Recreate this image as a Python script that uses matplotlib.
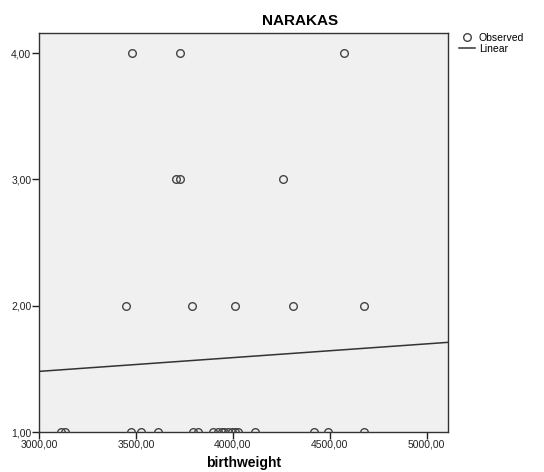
import matplotlib.pyplot as plt
from matplotlib.ticker import FuncFormatter

plt.rcParams['font.family'] = ['Liberation Sans', 'DejaVu Sans']

# Observed values (birthweight, NARAKAS)
bw_4 = [3480, 3728, 4574]
bw_3 = [3705, 3728, 4260]
bw_2 = [3447, 3789, 4010, 4311, 4679]
bw_1 = [3114, 3134, 3475, 3526, 3614, 3795, 3820, 3898, 3923, 3944, 3954,
        3975, 3996, 4011, 4027, 4115, 4419, 4491, 4677]

birthweight = bw_4 + bw_3 + bw_2 + bw_1
narakas = [4] * len(bw_4) + [3] * len(bw_3) + [2] * len(bw_2) + [1] * len(bw_1)

# Linear fit line end points
fit_x = [3000, 5110]
fit_y = [1.48, 1.71]

fig = plt.figure(figsize=(5.44, 4.72), dpi=100)
ax = fig.add_axes([39 / 544, 1 - 432 / 472, (448 - 39) / 544, (432 - 33) / 472])
ax.set_facecolor('#f0f0f0')

obs, = ax.plot(birthweight, narakas, 'o', mfc='none', mec='#444444', mew=1.0, ms=5.5,
               label='Observed', zorder=3)
lin, = ax.plot(fit_x, fit_y, '-', color='#333333', lw=1.1, label='Linear')

ax.set_xlim(3000, 5110)
ax.set_ylim(1, 4.16)
ax.set_xticks([3000, 3500, 4000, 4500, 5000])
ax.set_yticks([1, 2, 3, 4])
fmt = FuncFormatter(lambda v, p: f'{v:.2f}'.replace('.', ','))
ax.xaxis.set_major_formatter(fmt)
ax.yaxis.set_major_formatter(fmt)
ax.tick_params(direction='out', length=5, width=1, colors='#222222', labelsize=7.5, pad=0.5)
for s in ax.spines.values():
    s.set_color('#333333')
    s.set_linewidth(1)

fig.text(300 / 544, 1 - 21 / 472, 'NARAKAS', ha='center', va='center',
         fontsize=11, fontweight='bold')
fig.text(244 / 544, 1 - 463 / 472, 'birthweight', ha='center', va='center',
         fontsize=10, fontweight='bold')

fig.legend(handles=[obs, lin], loc='upper left', bbox_to_anchor=(459 / 544, 1 - 33 / 472),
           frameon=False, fontsize=7.5, handlelength=1.5, handletextpad=0.4,
           labelspacing=0.1, borderpad=0, borderaxespad=0)

fig.savefig('out.png', dpi=100)
